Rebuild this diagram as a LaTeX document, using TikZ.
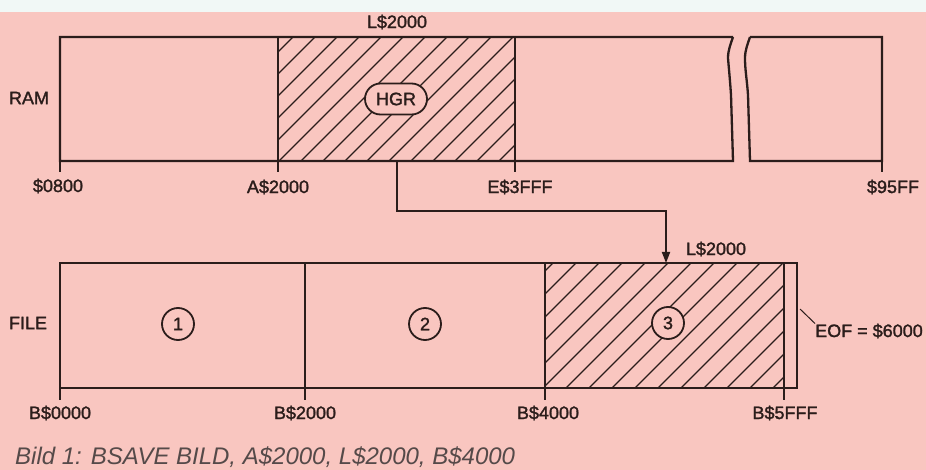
\documentclass[tikz,border=0pt]{standalone}
\usepackage{fontspec}
\setmainfont{Liberation Sans}
\newfontfamily\lblfont[FakeBold=1.6]{Liberation Sans}
\usetikzlibrary{arrows.meta,shapes.misc}
\definecolor{bgpink}{HTML}{F9C6C0}
\definecolor{topwhite}{HTML}{F1F8F6}
\definecolor{ink}{HTML}{2B1D1B}
\begin{document}
\begin{tikzpicture}[x=1pt,y=-1pt,
  box/.style={draw=ink, line width=2.3pt, line join=miter},
  hatchline/.style={draw=ink, line width=1.2pt},
  lbl/.style={font=\fontsize{18}{20}\lblfont, text=ink, inner sep=0pt},
  num/.style={circle, draw=ink, line width=1.8pt, fill=bgpink, minimum size=32pt, inner sep=0pt, font=\fontsize{18}{20}\lblfont, text=ink},
  tag/.style={rounded rectangle, draw=ink, line width=1.8pt, fill=bgpink, minimum width=62pt, minimum height=31pt, inner sep=0pt, font=\fontsize{18}{20}\lblfont, text=ink},
  conn/.style={draw=ink, line width=1.8pt, -{Triangle[length=11pt,width=8pt]}},
  leader/.style={draw=ink, line width=1pt}]
\useasboundingbox (0,0) rectangle (926,470);
\fill[bgpink] (0,0) rectangle (926,470);
\fill[topwhite] (0,0) rectangle (926,12);

% hatching RAM
\begin{scope}
  \clip (278,37) rectangle (515,161);
  \foreach \k in {-1,...,17} \draw[hatchline] ({169+22*\k},161) -- ++(124,-124);
\end{scope}
% hatching FILE
\begin{scope}
  \clip (545,263) rectangle (784,388);
  \foreach \k in {-1,...,17} \draw[hatchline] ({428+23*\k},388) -- ++(125,-125);
\end{scope}

% RAM box
\draw[box] (733,37) -- (60,37) -- (60,161) -- (733,161)
  -- (731,95) .. controls (730,80) and (729,70) .. (728,58)
  .. controls (728,50) and (731,43) .. (733,37);
\draw[box] (750,37) -- (882,37) -- (882,161) -- (750,161)
  -- (748,95) .. controls (747,80) and (745,70) .. (745,58)
  .. controls (745,50) and (748,43) .. (750,37);
\draw[box] (278,37) -- (278,172);
\draw[box] (515,37) -- (515,172);
\draw[box] (60,161) -- (60,172);
\draw[box] (882,161) -- (882,172);

% FILE box
\draw[box] (60,263) rectangle (797,388);
\draw[box] (305,263) -- (305,400);
\draw[box] (545,263) -- (545,400);
\draw[box] (784,263) -- (784,400);
\draw[box] (60,388) -- (60,400);

% labels RAM
\node[lbl] (ltop) at (397,22) {L\$2000};
\node[lbl] (ram) at (29,98) {RAM};
\node[tag] (hgr) at (396,99) {HGR};
\node[lbl] (a0800) at (58,186) {\$0800};
\node[lbl] (a2000) at (278,187) {A\$2000};
\node[lbl] (e3fff) at (520,187) {E\$3FFF};
\node[lbl] (a95ff) at (893,187) {\$95FF};

% arrow
\coordinate (src) at (397,161);
\coordinate (dst) at (666,263);
\draw[conn] (src) -- (397,211) -- (666,211) -- (dst);

% labels FILE
\node[lbl] (lbot) at (716,249) {L\$2000};
\node[lbl] (file) at (28,323) {FILE};
\node[num] (n1) at (178,324) {1};
\node[num] (n2) at (425,324) {2};
\node[num] (n3) at (668,323) {3};
\node[lbl, anchor=west] (eof) at (815,331) {EOF = \$6000};
\coordinate (eofp) at (800,309);
\draw[leader] (eofp) -- (eof.north west);
\node[lbl] (b0000) at (60,413) {B\$0000};
\node[lbl] (b2000) at (305,413) {B\$2000};
\node[lbl] (b4000) at (548,413) {B\$4000};
\node[lbl] (b5fff) at (785,413) {B\$5FFF};

% caption
\node[anchor=base west, inner sep=0pt, font=\fontsize{24}{28}\selectfont\itshape, text=ink!80] (cap) at (15,464) {Bild 1: BSAVE BILD, A\$2000, L\$2000, B\$4000};
\end{tikzpicture}
\end{document}
